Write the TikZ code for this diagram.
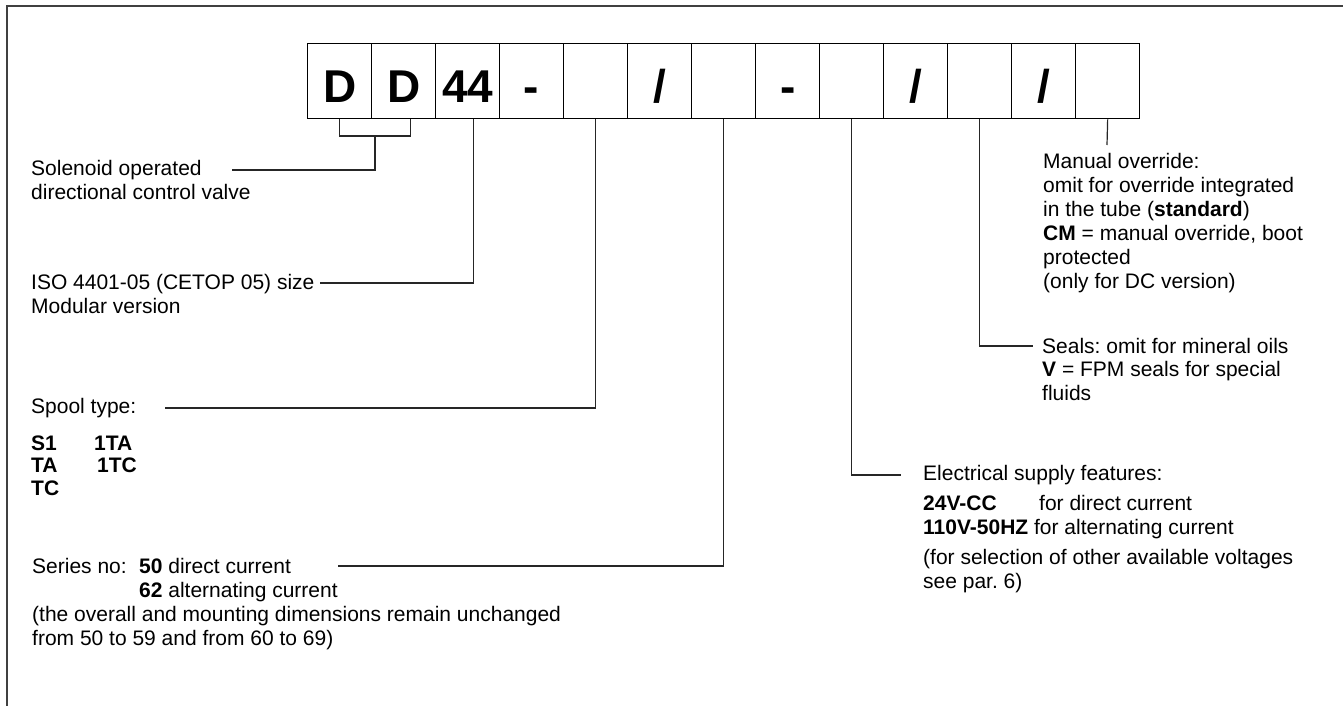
\documentclass[tikz,border=0pt]{standalone}
\usepackage{fontspec}
\setmainfont{Liberation Sans}
\frenchspacing
\newcommand\lblock[1]{\begin{tabular}[t]{@{}l@{}}#1\end{tabular}}
\begin{document}
\frenchspacing
\begin{tikzpicture}[x=1pt,y=-1pt,
  codebox/.style={draw=black, line width=1.3pt, minimum width=64pt, minimum height=75pt, inner sep=0pt, anchor=north west, font=\fontsize{46}{46}\selectfont\bfseries, text height=43pt, text depth=0pt},
  txt/.style={anchor=base west, inner sep=0pt, font=\fontsize{21}{24}\selectfont\frenchspacing},
  lead/.style={draw=black!85, line width=1.2pt},
  frame/.style={draw=black!75, line width=2.5pt}]
\useasboundingbox (0,0) rectangle (1343,705);
\draw[frame] (7,720) -- (7,6) -- (1360,6);

% code boxes
\foreach \t [count=\i] in {D,D,44,-,{},/,{},-,{},/,{},/,{}}
  \node[codebox] (b\i) at ({307+64*(\i-1)},43) {\t};

% texts
\node[txt] (sol) at (31,175) {\lblock{Solenoid operated\\directional control valve}};
\node[txt] (iso) at (31,289) {\lblock{ISO 4401-05 (CETOP 05) size\\Modular version}};
\node[txt] (spool) at (31,413) {Spool type:};
\node[txt, font=\fontsize{21}{22.5}\selectfont\bfseries] (spoolc) at (31,450)
  {\lblock{\makebox[63pt][l]{S1}1TA\\\makebox[66pt][l]{TA}1TC\\TC}};
\node[txt] (series) at (32,573) {\lblock{\makebox[107pt][l]{Series no:}\textbf{50} direct current\\
  \hspace*{107pt}\textbf{62} alternating current\\
  (the overall and mounting dimensions remain unchanged\\
  from 50 to 59 and from 60 to 69)}};
\node[txt] (elec) at (923,480) {\lblock{Electrical supply features:\\[6pt]
  \makebox[116pt][l]{\textbf{24V-CC}}for direct current\\
  \textbf{110V-50HZ} for alternating current\\[6pt]
  (for selection of other available voltages\\
  see par. 6)}};
\node[txt, font=\fontsize{21}{23.5}\selectfont\frenchspacing] (seals) at (1042,353)
  {\lblock{Seals: omit for mineral oils\\\textbf{V} = FPM seals for special\\fluids}};
\node[txt] (man) at (1043,168) {\lblock{Manual override:\\omit for override integrated\\
  in the tube (\textbf{standard})\\\textbf{CM} = manual override, boot\\protected\\(only for DC version)}};

% connector end points
\coordinate (brk) at (375,136);
\coordinate (solE) at (232,170);
\coordinate (isoE) at (320,283);
\coordinate (spoolE) at (165,408);
\coordinate (seriesE) at (338,566);
\coordinate (elecW) at (901,475);
\coordinate (sealsW) at (1033,346);
\coordinate (manN) at (1107,145);

% connectors
\draw[lead] (b1.south) |- (brk) -| ([xshift=7pt]b2.south);
\draw[lead] (brk) |- (solE);
\draw[lead] ([xshift=6pt]b3.south) |- (isoE);
\draw[lead] (b5.south) |- (spoolE);
\draw[lead] (b7.south) |- (seriesE);
\draw[lead] (b9.south) |- (elecW);
\draw[lead] (b11.south) |- (sealsW);
\draw[lead] (b13.south) -- (manN);
\end{tikzpicture}
\end{document}
